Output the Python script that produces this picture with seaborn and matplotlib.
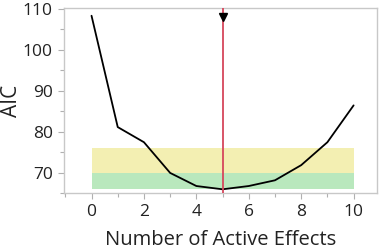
import matplotlib
matplotlib.use("Agg")
import matplotlib.pyplot as plt
import seaborn as sns
import pandas as pd
from matplotlib.ticker import MultipleLocator

n_effects = [0, 1, 2, 3, 4, 5, 6, 7, 8, 9, 10]
aic = [108.3, 81.1, 77.4, 69.9, 66.7, 65.9, 66.7, 68.1, 71.8, 77.4, 86.4]
best_k = 5
green_band = [65.9, 69.9]
yellow_band = [69.9, 75.9]
x_ticks = [0, 2, 4, 6, 8, 10]
y_ticks = [70, 80, 90, 100, 110]

df = pd.DataFrame({"Number of Active Effects": n_effects, "AIC": aic})

sns.set_theme(style="white")
plt.rcParams["font.family"] = ["Open Sans", "DejaVu Sans"]

fig = plt.figure(figsize=(3.81, 2.49), dpi=100)
ax = fig.add_axes([0.168, 0.225, 0.822, 0.743])

ax.fill_between([n_effects[0], n_effects[-1]], yellow_band[0], yellow_band[1],
                color="#f3efb2", lw=0, zorder=1)
ax.fill_between([n_effects[0], n_effects[-1]], green_band[0], green_band[1],
                color="#b9e8bd", lw=0, zorder=1)

sns.lineplot(data=df, x="Number of Active Effects", y="AIC", ax=ax,
             color="black", lw=1.3, zorder=3)

ax.axvline(best_k, color="#d6475c", lw=1.3, zorder=4)
ax.plot([best_k], [108.0], marker="v", color="black", ms=5.5, zorder=5,
        clip_on=False)

ax.set_xlim(-1.05, 10.9)
ax.set_ylim(65.0, 110.2)
ax.set_xticks(x_ticks)
ax.set_yticks(y_ticks)
ax.xaxis.set_minor_locator(MultipleLocator(1))
ax.yaxis.set_minor_locator(MultipleLocator(5))

for s in ax.spines.values():
    s.set_color("#c8c8c8")
    s.set_linewidth(1.0)

ax.tick_params(axis="both", which="major", direction="out", length=4,
               width=0.8, color="#b0b0b0", labelsize=12.5, pad=4,
               labelcolor="#222222", bottom=True, left=True)
ax.tick_params(axis="both", which="minor", direction="out", length=3,
               width=0.8, color="#b0b0b0", bottom=True, left=True)

ax.set_xlabel("Number of Active Effects", fontsize=14.5, color="#222222", labelpad=7)
ax.set_ylabel("AIC", fontsize=15, color="#222222", labelpad=0)
ax.yaxis.set_label_coords(-0.135, 0.5)

fig.savefig("out.png", dpi=100)
